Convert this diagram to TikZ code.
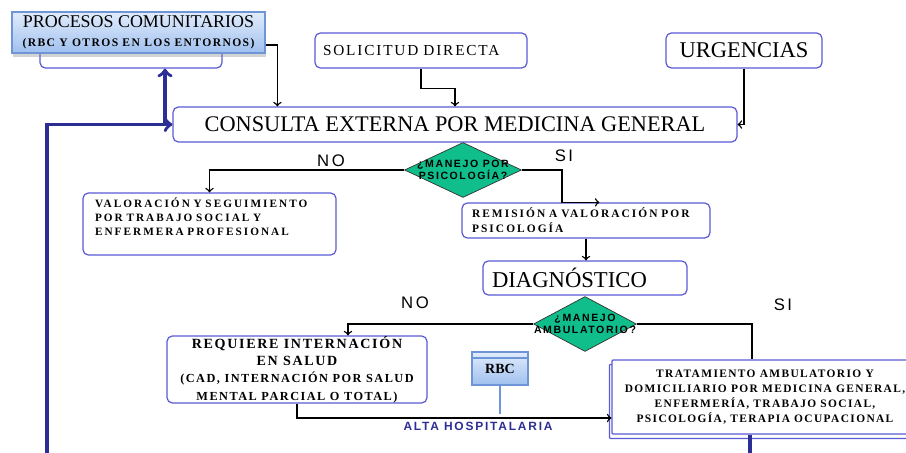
\documentclass[tikz,border=0pt]{standalone}
\usepackage{fontspec}
\setmainfont{Liberation Serif}
\setsansfont{Liberation Sans}
\newfontfamily\wideserif[LetterSpace=18]{Liberation Serif}
\newfontfamily\spacedserif[LetterSpace=12]{Liberation Serif}
\newfontfamily\widesans[LetterSpace=15]{Liberation Sans}
\usepackage{tikz}
\usetikzlibrary{shapes}
\usetikzlibrary{shadows}
\definecolor{boxline}{RGB}{90,90,215}
\definecolor{navy}{RGB}{45,45,150}
\definecolor{mint}{RGB}{16,190,140}
\definecolor{paleblue}{RGB}{225,236,252}
\definecolor{midblue}{RGB}{160,192,238}
\definecolor{edgeblue}{RGB}{110,150,215}

\begin{document}
\begin{tikzpicture}[x=0.02cm, y=-0.02cm]
    \tikzstyle{box}=[draw=boxline, line width=0.7pt, rounded corners=3pt, fill=white, inner sep=0pt]
    \tikzstyle{decision}=[diamond, draw=black!80, line width=0.4pt, fill=mint, inner sep=0pt]
    \tikzstyle{question}=[align=center, inner sep=0pt, font=\widesans\bfseries\fontsize{6}{6.5}\selectfont]
    \tikzstyle{conn}=[draw=black, line width=0.8pt]
    \tikzstyle{arr}=[conn, ->]
    \tikzstyle{bluearr}=[draw=navy, line width=2pt, ->]
    \tikzstyle{answer}=[font=\widesans\fontsize{9.5}{11}\selectfont]
    \tikzstyle{shade}=[top color=paleblue, bottom color=midblue, draw=edgeblue, line width=0.6pt, inner sep=0pt]
    \useasboundingbox (0,0) rectangle (906,453);
    \clip (0,0) rectangle (906,453);
    \node[box, minimum width=3.64cm, minimum height=0.56cm] (back) at (131,54) {};
    \node[shade, drop shadow={shadow xshift=0.5pt, shadow yshift=-2pt, opacity=0.35}, minimum width=5.06cm, minimum height=0.82cm, align=center] (proc) at (138.5,32.5)
      {\fontsize{10.2}{11}\selectfont PROCESOS COMUNITARIOS\\[-1pt]\spacedserif\bfseries\fontsize{6.6}{8}\selectfont (RBC Y OTROS EN LOS ENTORNOS)};
    \node[box, minimum width=11.28cm, minimum height=0.70cm, font=\fontsize{12.7}{14}\selectfont] (cons) at (455,124.5) {CONSULTA EXTERNA POR MEDICINA GENERAL};
    \node[box, minimum width=4.24cm, minimum height=0.70cm, text width=3.92cm, align=left, font=\spacedserif\fontsize{8.7}{10}\selectfont] (sol) at (421,50.5) {SOLICITUD DIRECTA};
    \node[box, minimum width=3.12cm, minimum height=0.70cm, font=\fontsize{12.8}{14}\selectfont] (urg) at (744,50.5) {URGENCIAS};
    \node[decision, minimum width=2.34cm, minimum height=1.1cm, label={[question]center:¿MANEJO POR\\PSICOLOGÍA?}] (dpsi) at (463,170) {};
    \node[box, minimum width=5.06cm, minimum height=1.24cm, text width=4.58cm, align=left, font=\wideserif\bfseries\fontsize{6.4}{8}\selectfont] (val) at (209.5,224)
      {VALORACIÓN Y SEGUIMIENTO\\POR TRABAJO SOCIAL Y\\ENFERMERA PROFESIONAL\\[0pt]\mbox{}};
    \node[box, minimum width=4.96cm, minimum height=0.70cm, text width=4.56cm, align=left, font=\wideserif\bfseries\fontsize{6.5}{8.5}\selectfont] (rem) at (586,220.5)
      {REMISIÓN A VALORACIÓN POR\\PSICOLOGÍA};
    \node[box, minimum width=4.08cm, minimum height=0.68cm, text width=3.72cm, align=left, font=\fontsize{12.9}{14}\selectfont] (diag) at (585,278) {DIAGNÓSTICO};
    \node[decision, minimum width=2.06cm, minimum height=1.1cm, label={[question]center:¿MANEJO\\AMBULATORIO?}] (damb) at (585,324) {};
    \node[box, minimum width=5.2cm, minimum height=1.34cm, align=center, font=\spacedserif\bfseries\fontsize{8}{9.8}\selectfont] (req) at (297,369.5)
      {REQUIERE INTERNACIÓN\\EN SALUD\\\fontsize{7}{9}\selectfont (CAD, INTERNACIÓN POR SALUD\\\fontsize{7}{8}\selectfont MENTAL PARCIAL O TOTAL)};
    \node[shade, minimum width=1.12cm, minimum height=0.66cm, font=\bfseries\fontsize{8}{9}\selectfont,
      path picture={\draw[edgeblue] ([yshift=-0.12cm]path picture bounding box.north west) -- ([yshift=-0.12cm]path picture bounding box.north east);}] (rbc) at (500,368.5) {RBC};
    \node[box, rounded corners=0.5pt, copy shadow={shadow xshift=-1.5pt, shadow yshift=-2.5pt}, minimum width=6.12cm, minimum height=1.48cm, align=center, font=\spacedserif\bfseries\fontsize{6.5}{8.4}\selectfont] (trat) at (765,397)
      {TRATAMIENTO AMBULATORIO Y\\DOMICILIARIO POR MEDICINA GENERAL,\\ENFERMERÍA, TRABAJO SOCIAL,\\PSICOLOGÍA, TERAPIA OCUPACIONAL};
    \node[answer] (no1) at (331,161) {NO};
    \node[answer] (si1) at (564,156) {SI};
    \node[answer] (no2) at (415,303) {NO};
    \node[answer] (si2) at (783,305) {SI};
    \node[font=\widesans\bfseries\fontsize{6.8}{8}\selectfont, text=navy] (altalbl) at (478,426) {ALTA HOSPITALARIA};
    \draw[arr] ([yshift=-0.25cm]proc.east) -| ([xshift=2.1cm]cons.north west);
    \draw[arr] (sol.south) -- ++(0,20) -| (cons.north);
    \draw[arr] (urg.south) |- (cons.east);
    \draw[arr] (dpsi.west) -| (val.north);
    \draw[arr] (dpsi.east) -- ++(40,0) |- ([xshift=2.76cm]rem.north west);
    \draw[arr] (rem.south) -- (rem.south |- diag.north);
    \draw[arr] (damb.west) -| ([xshift=1.02cm]req.north);
    \draw[conn] (damb.east) -| ([xshift=-0.26cm]trat.north);
    \draw[arr] (req.south) |- ([yshift=-0.42cm]trat.west);
    \coordinate (alta) at (500,414);
    \draw[draw=edgeblue, line width=0.8pt] (rbc.south) -- (alta);
    \coordinate (low) at (47,460);
    \draw[bluearr] (low) |- (cons.west);
    \coordinate (jn) at (165,124.5);
    \draw[bluearr] (jn) -- (jn |- back.south);
    \draw[draw=navy, line width=2pt] ([xshift=-0.3cm]trat.south) -- ++(0,30);
\end{tikzpicture}
\end{document}
